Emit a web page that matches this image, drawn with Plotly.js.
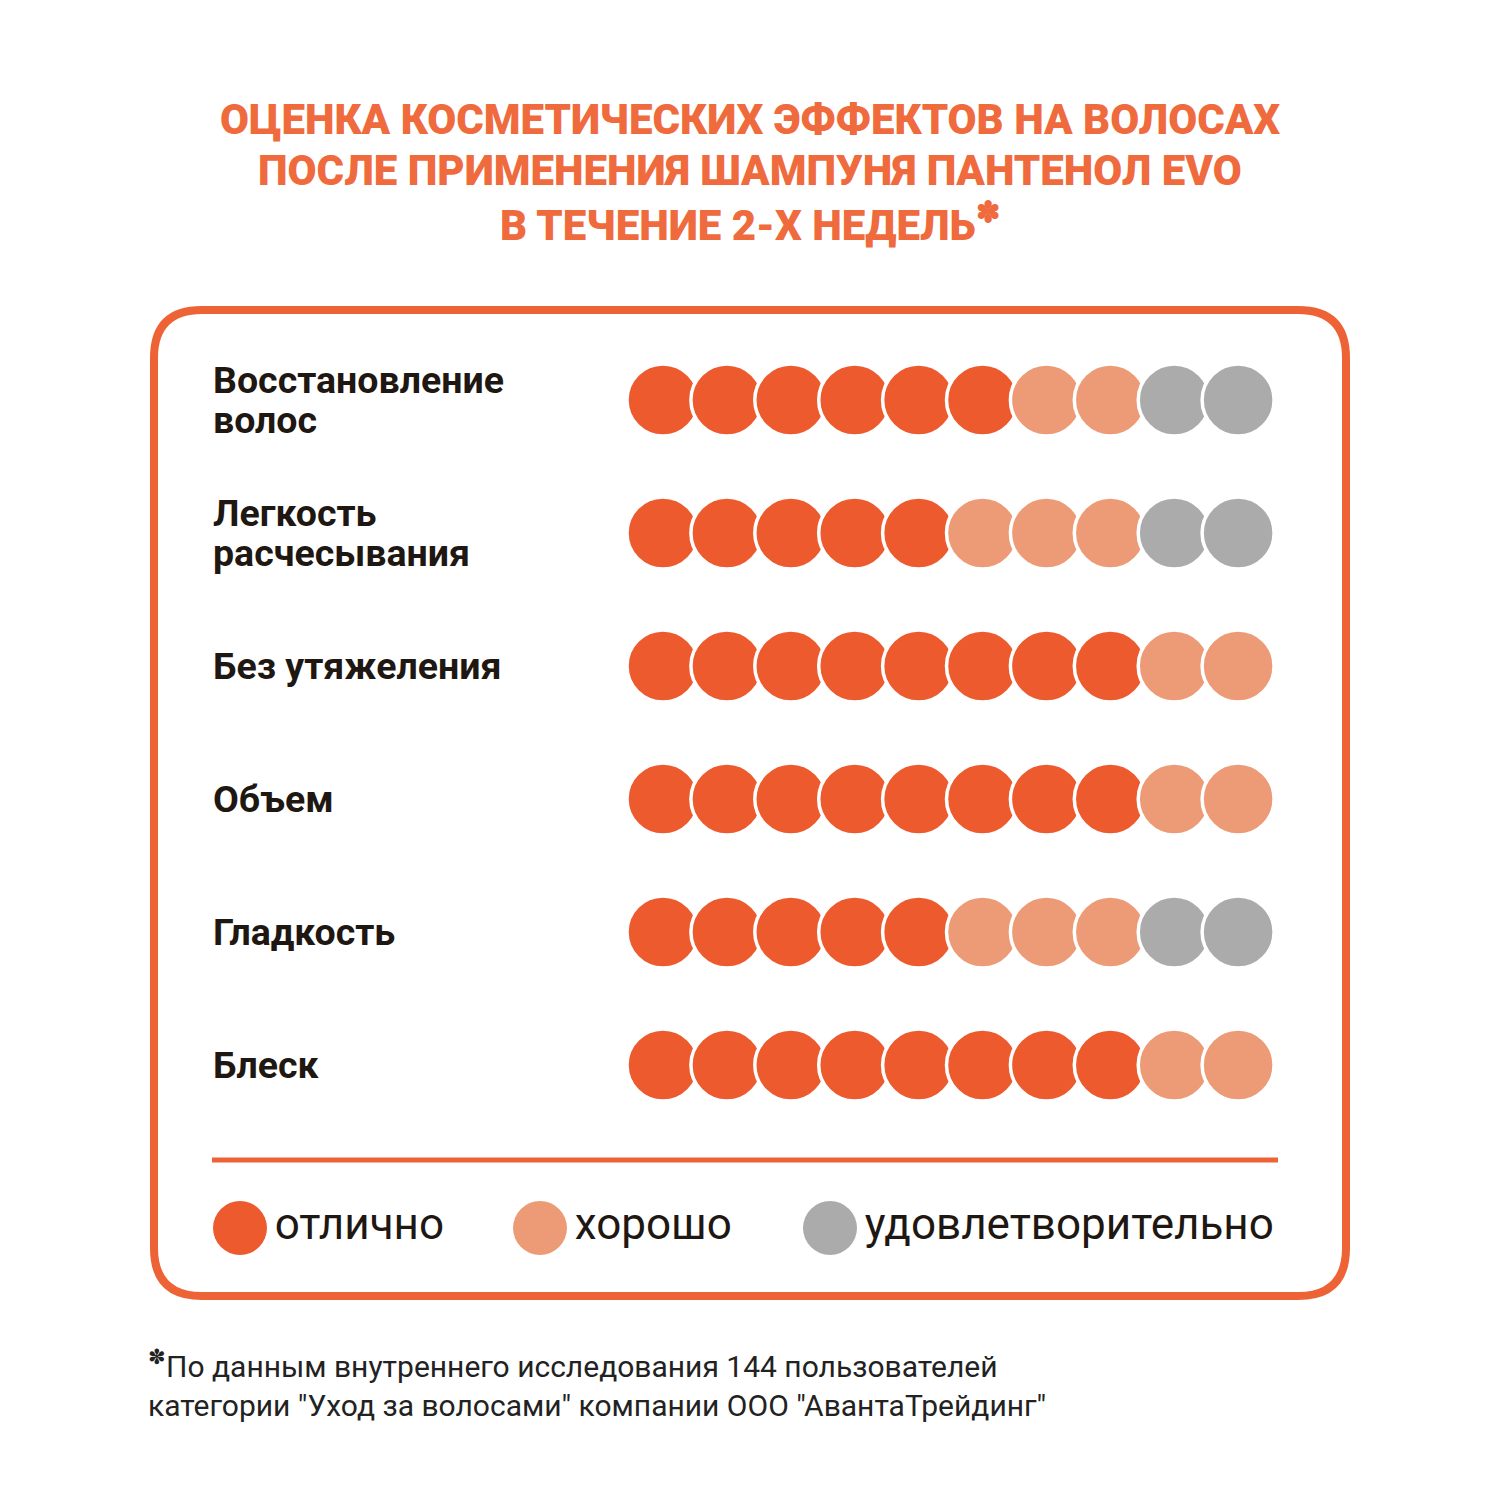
<!DOCTYPE html>
<html><head><meta charset="utf-8">
<script src="https://cdn.plot.ly/plotly-3.0.1.min.js"></script>
<style>html,body{margin:0;padding:0;background:#fff}</style>
</head><body><div id="chart" style="width:1500px;height:1500px"></div>
<script>
// ---- data ----
const categories = ["Восстановление<br>волос", "Легкость<br>расчесывания", "Без утяжеления", "Объем", "Гладкость", "Блеск"];
const excellent = [6, 5, 8, 8, 5, 8];
const good = [2, 3, 2, 2, 3, 2];
const satisfactory = [2, 2, 0, 0, 2, 0];
const levels = ["отлично", "хорошо", "удовлетворительно"];
const titleLines = ["ОЦЕНКА КОСМЕТИЧЕСКИХ ЭФФЕКТОВ НА ВОЛОСАХ", "ПОСЛЕ ПРИМЕНЕНИЯ ШАМПУНЯ ПАНТЕНОЛ EVO", "В ТЕЧЕНИЕ 2-Х НЕДЕЛЬ<sup>✽</sup>"];
const footnote = "<sup>✽</sup>По данным внутреннего исследования 144 пользователей<br>категории \"Уход за волосами\" компании ООО \"АвантаТрейдинг\"";

// ---- styles ----
const levelColors = ["#EC5A2E", "#EC9B76", "#ABABAB"];
const orange = "#EE6336";
const titleColor = "#EF6A3C";
const textColor = "#1E1712";
const W = 1500, H = 1500;
const dotStep = 63.9, firstDotPx = 663, firstRowPx = 400, rowStep = 133;

// build dot grid from counts
const xs = [], ys = [], cs = [], hov = [];
categories.forEach((cat, i) => {
  const counts = [excellent[i], good[i], satisfactory[i]];
  let k = 1;
  counts.forEach((n, li) => {
    for (let j = 0; j < n; j++) {
      xs.push(k); ys.push(i); cs.push(levelColors[li]); hov.push(levels[li]);
      k++;
    }
  });
});

const xRange = [1 - firstDotPx / dotStep, 1 + (W - firstDotPx) / dotStep];
const yRange = [(H - firstRowPx) / rowStep, -firstRowPx / rowStep];

const dots = {
  type: "scatter", mode: "markers", x: xs, y: ys, text: hov, hoverinfo: "text",
  marker: {size: 72, color: cs, line: {color: "#ffffff", width: 3.5}},
  showlegend: false, cliponaxis: false
};

// legend row (pixel-based helper axes)
const legendX = [240, 540, 830];
const legendY = [1228, 1228, 1228];
const legendTrace = {
  type: "scatter", mode: "markers+text", x: legendX, y: legendY, xaxis: "x2", yaxis: "y2",
  text: levels, textposition: "middle right",
  textfont: {family: "Roboto", size: 44, color: textColor},
  marker: {size: 54, color: levelColors}, showlegend: false, hoverinfo: "skip", cliponaxis: false
};

const px = v => v / W, py = v => 1 - v / H;
function roundRect(x0, y0, x1, y1, r) {
  const X0 = px(x0), X1 = px(x1), Y0 = py(y0), Y1 = py(y1), rx = r / W, ry = r / H;
  return `M ${X0 + rx} ${Y0} L ${X1 - rx} ${Y0} Q ${X1} ${Y0} ${X1} ${Y0 - ry} L ${X1} ${Y1 + ry} Q ${X1} ${Y1} ${X1 - rx} ${Y1} L ${X0 + rx} ${Y1} Q ${X0} ${Y1} ${X0} ${Y1 + ry} L ${X0} ${Y0 - ry} Q ${X0} ${Y0} ${X0 + rx} ${Y0} Z`;
}

const annotations = [];
categories.forEach((c, i) => {
  const lines = c.split("<br>");
  lines.forEach((ln, j) => {
    annotations.push({
      xref: "paper", yref: "y", x: px(211), y: i, xanchor: "left", yanchor: "middle", align: "left",
      yshift: -((j - (lines.length - 1) / 2) * 40),
      text: ln, showarrow: false,
      font: {family: "Roboto", size: 37.5, color: textColor, weight: 700}
    });
  });
});
titleLines.forEach((t, j) => {
  annotations.push({
    xref: "paper", yref: "paper", x: 0.5, y: py(120 + j * 51), xanchor: "center", yanchor: "middle", align: "center",
    text: t, showarrow: false,
    font: {family: "Roboto", size: 42, color: titleColor, weight: 900}
  });
});
annotations.push({
  xref: "paper", yref: "paper", x: px(146), y: py(1343), xanchor: "left", yanchor: "top", align: "left",
  text: footnote, showarrow: false,
  font: {family: "Roboto", size: 30, color: "#222222"}
});

const layout = {
  width: W, height: H, margin: {l: 0, r: 0, t: 0, b: 0},
  paper_bgcolor: "#ffffff", plot_bgcolor: "#ffffff",
  xaxis: {range: xRange, visible: false, fixedrange: true},
  yaxis: {range: yRange, visible: false, fixedrange: true},
  xaxis2: {range: [0, W], visible: false, overlaying: "x", fixedrange: true},
  yaxis2: {range: [H, 0], visible: false, overlaying: "y", fixedrange: true},
  shapes: [
    {type: "path", xref: "paper", yref: "paper", path: roundRect(154, 310, 1346, 1296, 48),
     line: {color: orange, width: 8}, fillcolor: "rgba(0,0,0,0)"},
    {type: "line", xref: "paper", yref: "paper", x0: px(212), x1: px(1278), y0: py(1160), y1: py(1160),
     line: {color: orange, width: 5}}
  ],
  annotations: annotations,
  showlegend: false
};

Plotly.newPlot("chart", [dots, legendTrace], layout, {displayModeBar: false, staticPlot: true});
</script></body></html>
